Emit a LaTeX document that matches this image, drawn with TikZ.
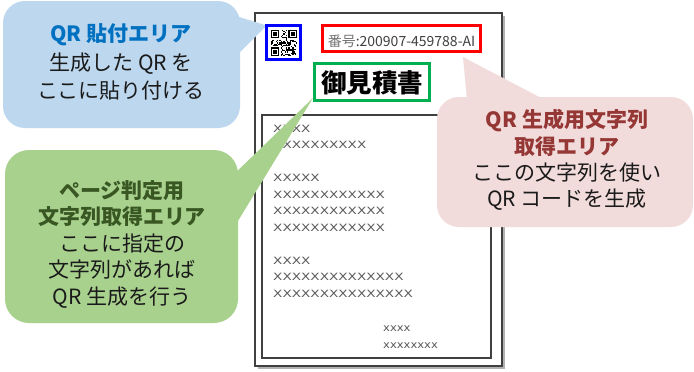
\documentclass[tikz,border=0pt]{standalone}
\usepackage{fontspec}
\setmainfont{Noto Sans CJK JP}
\newfontfamily\xfont[FakeStretch=1.36]{DejaVu Sans}
\newfontfamily\xsfont[FakeStretch=1.1]{DejaVu Sans}
\usetikzlibrary{calc}
\definecolor{bluefill}{HTML}{BDD7EE}
\definecolor{bluetitle}{HTML}{0070C0}
\definecolor{greenfill}{HTML}{A9D18E}
\definecolor{greentitle}{HTML}{385723}
\definecolor{pinkfill}{HTML}{F2DCDB}
\definecolor{pinktitle}{HTML}{953735}
\definecolor{txt}{HTML}{1A1A1A}
\definecolor{xgray}{HTML}{595959}
\definecolor{docline}{HTML}{404040}
\definecolor{markgreen}{HTML}{00B050}
\tikzset{
  markbox/.style={draw=#1, line width=3pt, inner sep=0pt, outer sep=0pt},
  xline/.style={anchor=base west, inner sep=0pt, text=xgray, font=\xfont\fontsize{10}{12}\selectfont},
  xsline/.style={anchor=base west, inner sep=0pt, text=xgray, font=\xsfont\fontsize{10.5}{12}\selectfont},
  callouttext/.style={align=center, text=txt, inner sep=0pt},
}
\begin{document}
\begin{tikzpicture}[x=1pt,y=-1pt]
\fill[white] (0,0) rectangle (694,372);
\useasboundingbox (0,0) rectangle (694,372);
% document sheet
\fill[black!30] (257.5,15.5) rectangle (505,369);
\filldraw[fill=white, draw=docline, line width=1.3pt] (255,13) rectangle (502,366);
\draw[docline, line width=1.2pt] (262,115) rectangle (491,358);
% content lines
\node[xline] (l1) at (273,132) {XXXX};
\node[xline] (l2) at (273,148) {XXXXXXXXXX};
\node[xline] (l3) at (273,181.3) {XXXXX};
\node[xline] (l4) at (273,198) {XXXXXXXXXXXX};
\node[xline] (l5) at (273,214.6) {XXXXXXXXXXXX};
\node[xline] (l6) at (273,231.3) {XXXXXXXXXXXX};
\node[xline] (l7) at (273,264.6) {XXXX};
\node[xline] (l8) at (273,280.3) {XXXXXXXXXXXXXX};
\node[xline] (l9) at (273,297) {XXXXXXXXXXXXXXX};
\node[xsline] (s1) at (383,331.5) {xxxx};
\node[xsline] (s2) at (383,348) {xxxxxxxx};
% number text
\node[inner sep=0pt, text=docline, font=\fontsize{14}{16}\selectfont] (numtext) at (401.5,41.5) {{\color{black!55}番号}:200907-459788-AI};
% title
\node[inner sep=0pt, text=black, font=\bfseries\fontsize{25.5}{28}\selectfont] (titletext) at (372,82.5) {御見積書};
% callout tips
\coordinate (ptip) at (463,57);
\coordinate (btip) at (266.5,25.5);
\coordinate (gtip) at (313,98);
% pink callout
\fill[pinkfill, rounded corners=22pt] (437,97) rectangle (693,227);
\fill[pinkfill] (467,100) -- (ptip) -- (545,100) -- cycle;
\node[callouttext, font=\fontsize{21}{26.3}\selectfont] (pinktxt) at (567,160)
  {{\bfseries\color{pinktitle}QR 生成用文字列}\\{\bfseries\color{pinktitle}取得エリア}\\ここの文字列を使い\\QR コードを生成};
% blue callout
\fill[bluefill, rounded corners=22pt] (3,1) rectangle (240,128);
\fill[bluefill] (236,16) -- (btip) -- (236,56) -- cycle;
\node[callouttext, font=\fontsize{21}{28.5}\selectfont] (bluetxt) at (121,62)
  {{\bfseries\color{bluetitle}QR 貼付エリア}\\生成した QR を\\ここに貼り付ける};
% green callout
\fill[greenfill, rounded corners=24pt] (5,150) rectangle (238,323);
\fill[greenfill] (230,178) -- (gtip) -- (230,234) -- cycle;
\node[callouttext, font=\fontsize{21}{26.5}\selectfont] (greentxt) at (122,244)
  {{\bfseries\color{greentitle}ページ判定用}\\{\bfseries\color{greentitle}文字列取得エリア}\\ここに指定の\\文字列があれば\\QR 生成を行う};
% boxes
\node[markbox=blue, minimum width=34pt, minimum height=34pt] (qrbox) at (283.5,42.5) {};
\node[markbox=red, minimum width=158pt, minimum height=26pt] (numbox) at (401.5,38.5) {};
\node[markbox=markgreen, minimum width=115pt, minimum height=37pt] (titlebox) at (372,82) {};
% QR code
\begin{scope}[shift={(270.5,29.5)}, x=1.28pt, y=-1.28pt]
  \pgfmathsetseed{11}
  \foreach \i in {0,...,20} {
    \foreach \j in {0,...,20} {
      \pgfmathrandominteger{\qrbit}{0}{1}
      \pgfmathtruncatemacro{\qrskip}{((\i<8)&&(\j<8))||((\i>12)&&(\j<8))||((\i<8)&&(\j>12))}
      \ifnum\qrbit\qrskip=10 \fill[black] (\i,\j) rectangle ++(1,1); \fi
    }
  }
  \foreach \a/\b in {0/0,14/0,0/14} {
    \fill[black] (\a,\b) rectangle ++(7,7);
    \fill[white] (\a+1,\b+1) rectangle ++(5,5);
    \fill[black] (\a+2,\b+2) rectangle ++(3,3);
  }
\end{scope}
\end{tikzpicture}
\end{document}
